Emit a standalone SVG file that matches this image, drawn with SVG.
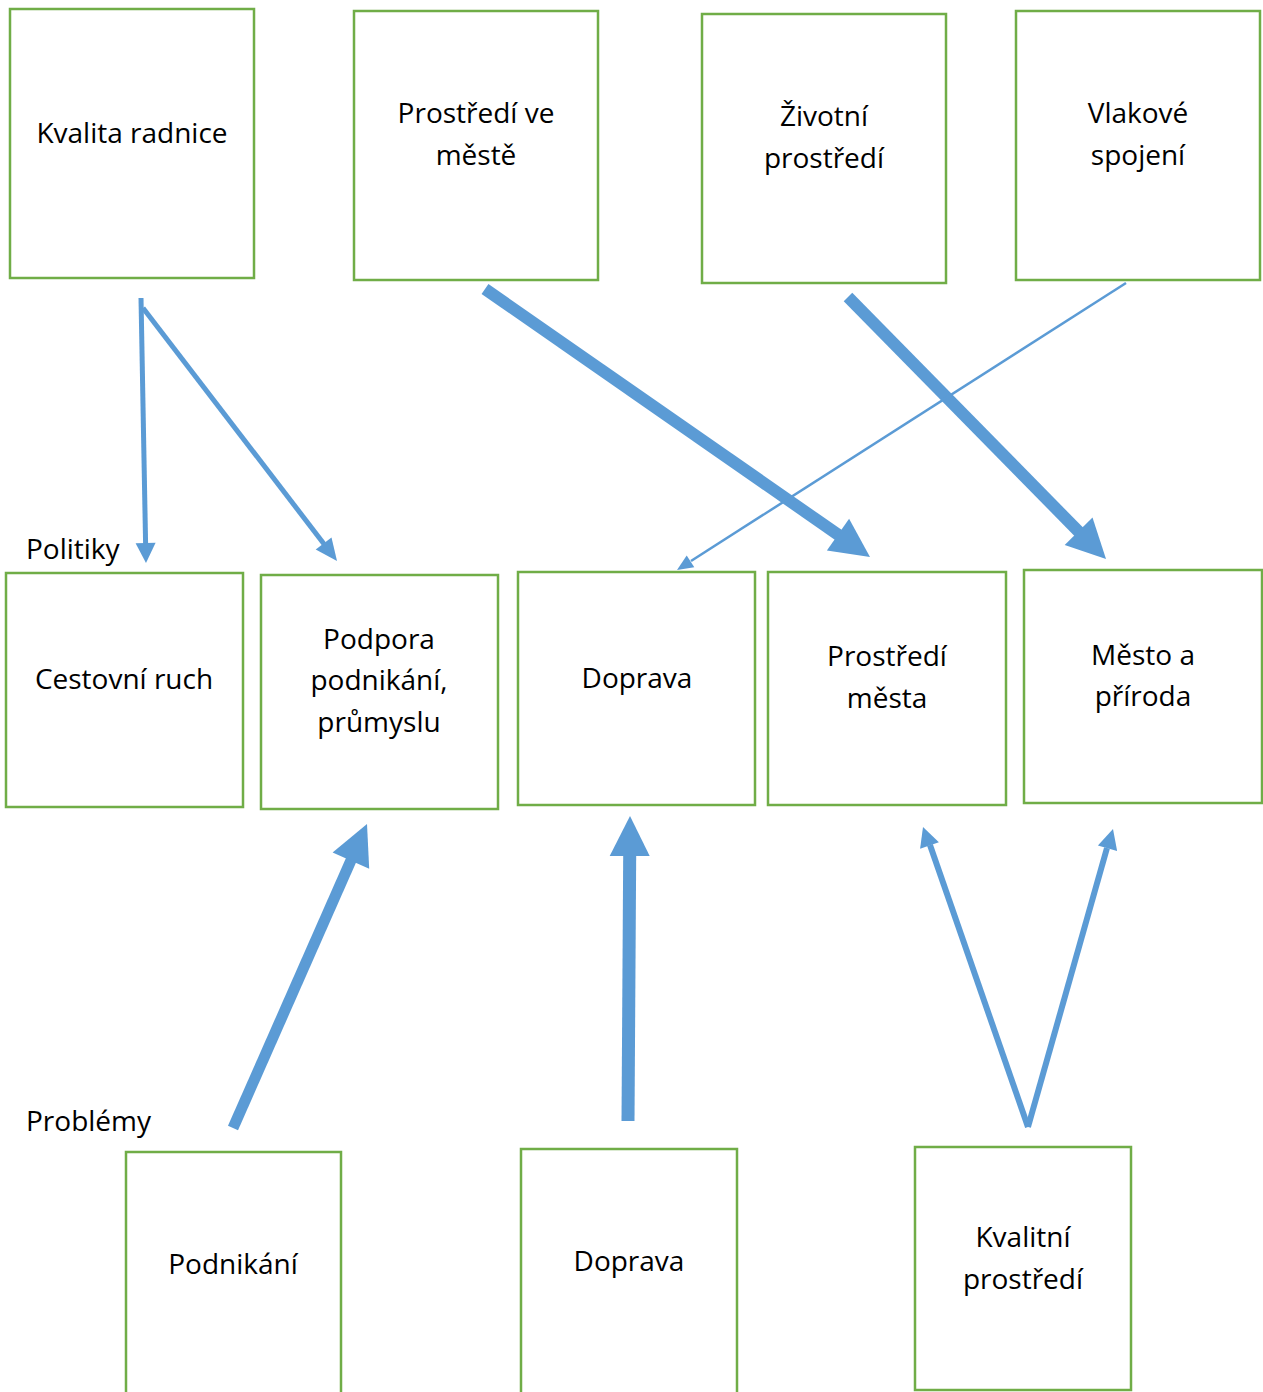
<svg xmlns="http://www.w3.org/2000/svg" width="1263" height="1392" viewBox="0 0 1263 1392">
<style>
.box{fill:#fff;stroke:#70ad47;stroke-width:2.5}
.t{font-family:"Open Sans","DejaVu Sans",sans-serif;font-size:28px;fill:#000;text-anchor:middle}
.lbl{font-family:"Open Sans","DejaVu Sans",sans-serif;font-size:28px;fill:#000}
.ln{stroke:#5b9bd5;fill:none}
.hd{fill:#5b9bd5;stroke:none}
</style>
<rect width="1263" height="1392" fill="#fff"/>
<g id="kvalita-radnice"><rect class="box" x="10" y="9" width="244" height="269"/><text class="t" x="132" y="143">Kvalita radnice</text></g>
<g id="prostredi-ve-meste"><rect class="box" x="354" y="11" width="244" height="269"/><text class="t" x="476" y="123">Prostředí ve</text><text class="t" x="476" y="165">městě</text></g>
<g id="zivotni-prostredi"><rect class="box" x="702" y="14" width="244" height="269"/><text class="t" x="824" y="126">Životní</text><text class="t" x="824" y="168">prostředí</text></g>
<g id="vlakove-spojeni"><rect class="box" x="1016" y="11" width="244" height="269"/><text class="t" x="1138" y="123">Vlakové</text><text class="t" x="1138" y="165">spojení</text></g>
<g id="politiky"><text class="lbl" x="26" y="559">Politiky</text></g>
<g id="cestovni-ruch"><rect class="box" x="6" y="573" width="237" height="234"/><text class="t" x="124" y="689">Cestovní ruch</text></g>
<g id="podpora"><rect class="box" x="261" y="575" width="237" height="234"/><text class="t" x="379" y="649">Podpora</text><text class="t" x="379" y="690">podnikání,</text><text class="t" x="379" y="732">průmyslu</text></g>
<g id="doprava-p"><rect class="box" x="518" y="572" width="237" height="233"/><text class="t" x="637" y="688">Doprava</text></g>
<g id="prostredi-mesta"><rect class="box" x="768" y="572" width="238" height="233"/><text class="t" x="887" y="666">Prostředí</text><text class="t" x="887" y="708">města</text></g>
<g id="mesto-a-priroda"><rect class="box" x="1024" y="570" width="238" height="233"/><text class="t" x="1143" y="665">Město a</text><text class="t" x="1143" y="706">příroda</text></g>
<g id="problemy"><text class="lbl" x="26" y="1131">Problémy</text></g>
<g id="podnikani"><rect class="box" x="126" y="1152" width="215" height="260"/><text class="t" x="233" y="1274">Podnikání</text></g>
<g id="doprava-b"><rect class="box" x="521" y="1149" width="216" height="260"/><text class="t" x="629" y="1271">Doprava</text></g>
<g id="kvalitni-prostredi"><rect class="box" x="915" y="1147" width="216" height="243"/><text class="t" x="1023" y="1247">Kvalitní</text><text class="t" x="1023" y="1289">prostředí</text></g>
<g id="connectors">
<line class="ln" x1="141" y1="298" x2="145.6" y2="544" stroke-width="5"/>
<polygon class="hd" points="146,563 155.6,542.8 135.6,543.2"/>
<line class="ln" x1="143" y1="308" x2="324" y2="544" stroke-width="5"/>
<polygon class="hd" points="337,561 331.5,537.4 315.7,549.6"/>
<line class="ln" x1="485" y1="289" x2="840" y2="536" stroke-width="12"/>
<polygon class="hd" points="870,557 849.1,518.8 826.9,550.6"/>
<line class="ln" x1="848" y1="297" x2="1080" y2="533" stroke-width="12"/>
<polygon class="hd" points="1106,559 1092.5,517.5 1064.7,544.9"/>
<line class="ln" x1="1126" y1="283" x2="691" y2="561" stroke-width="2.5"/>
<polygon class="hd" points="677,570 694.3,567.3 686.7,555.5"/>
<line class="ln" x1="233" y1="1128" x2="352" y2="858" stroke-width="11"/>
<polygon class="hd" points="367,824 369.2,868.7 332.6,852.5"/>
<line class="ln" x1="628" y1="1121" x2="629.7" y2="854" stroke-width="13"/>
<polygon class="hd" points="630,816 649.7,856.1 609.7,855.9"/>
<line class="ln" x1="1028" y1="1127" x2="930" y2="845" stroke-width="6"/>
<polygon class="hd" points="923,827 938.9,842.2 920.1,848.8"/>
<line class="ln" x1="1028" y1="1127" x2="1107" y2="848" stroke-width="6"/>
<polygon class="hd" points="1113,829 1117.1,850.9 1097.9,845.5"/>
</g>
</svg>
